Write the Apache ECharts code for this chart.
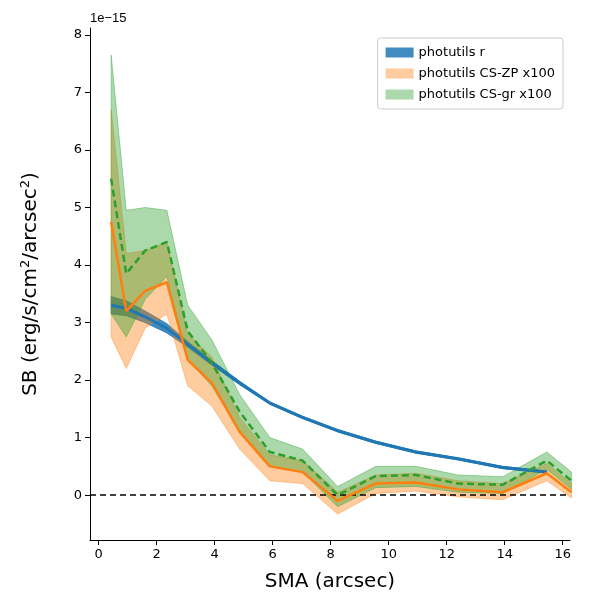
<!DOCTYPE html>
<html>
<head>
<meta charset="UTF-8">
<script src="https://cdn.jsdelivr.net/npm/echarts@6/dist/echarts.min.js"></script>
<style>body{margin:0}#c{width:600px;height:600px}</style>
</head>
<body>
<div id="c"></div>
<script>
var sma = [0.43, 0.95, 1.6, 2.35, 3.07, 3.9, 4.86, 5.9, 7.03, 8.24, 9.55, 10.93, 12.4, 13.93, 15.45, 16.3];
var rMean = [3.3, 3.25, 3.1, 2.9, 2.62, 2.3, 1.95, 1.6, 1.35, 1.12, 0.92, 0.75, 0.63, 0.48, 0.4, null];
var rLow  = [3.15, 3.12, 3.0, 2.82, 2.57, 2.26, 1.92, 1.58, 1.33, 1.1, 0.9, 0.73, 0.61, 0.46, 0.38, null];
var rHigh = [3.45, 3.38, 3.2, 2.98, 2.67, 2.34, 1.98, 1.62, 1.37, 1.14, 0.94, 0.77, 0.65, 0.5, 0.42, null];
var zpMean = [4.75, 3.2, 3.55, 3.7, 2.35, 1.95, 1.1, 0.5, 0.4, -0.1, 0.2, 0.22, 0.1, 0.05, 0.38, 0.05];
var zpLow  = [2.75, 2.2, 2.9, 3.15, 1.9, 1.55, 0.8, 0.25, 0.2, -0.33, 0.03, 0.07, -0.03, -0.08, 0.25, -0.05];
var zpHigh = [6.7, 4.2, 4.25, 4.4, 2.8, 2.4, 1.35, 0.7, 0.6, 0.05, 0.35, 0.38, 0.25, 0.2, 0.55, 0.2];
var grMean = [5.5, 3.85, 4.25, 4.4, 2.85, 2.3, 1.45, 0.75, 0.6, 0.0, 0.33, 0.35, 0.2, 0.18, 0.6, 0.25];
var grLow  = [3.15, 2.75, 3.4, 3.8, 2.35, 1.9, 1.1, 0.5, 0.4, -0.2, 0.13, 0.15, 0.05, 0.03, 0.45, 0.1];
var grHigh = [7.65, 4.95, 5.0, 4.95, 3.3, 2.7, 1.75, 1.0, 0.8, 0.15, 0.5, 0.5, 0.35, 0.32, 0.75, 0.4];
var xTicks = [0, 2, 4, 6, 8, 10, 12, 14, 16];
var yTicks = [0, 1, 2, 3, 4, 5, 6, 7, 8];

function pts(a) { return sma.map(function (x, i) { return [x, a[i]]; }); }
function band(name, low, high, color, op, z) {
  var data = [];
  sma.forEach(function (x, i) { if (low[i] != null) data.push([x, low[i], high[i]]); });
  return {
    name: name, type: 'custom', z: z, itemStyle: { color: color, opacity: op },
    encode: { x: 0, y: [1, 2] }, data: data,
    renderItem: function (params, api) {
      if (params.dataIndex !== 0) return null;
      var top = [], bot = [];
      data.forEach(function (d) {
        top.push(api.coord([d[0], d[2]]));
        bot.unshift(api.coord([d[0], d[1]]));
      });
      return {
        type: 'polygon', shape: { points: top.concat(bot) },
        style: { fill: color, opacity: op, stroke: color, lineWidth: 1 }
      };
    }
  };
}
var blue = '#1f77b4', orange = '#ff7f0e', green = '#2ca02c';
var series = [
  band('photutils r', rLow, rHigh, blue, 0.85, 1),
  band('photutils CS-ZP x100', zpLow, zpHigh, '#ff7f0e', 0.4, 2),
  band('photutils CS-gr x100', grLow, grHigh, green, 0.4, 3),
  { type: 'line', data: pts(rMean), symbol: 'none', lineStyle: { color: blue, width: 3 }, z: 5,
    markLine: { silent: true, symbol: 'none', label: { show: false },
      lineStyle: { color: '#000', type: [6, 4], width: 1.5 }, data: [{ yAxis: 0 }] } },
  { type: 'line', data: pts(zpMean), symbol: 'none', lineStyle: { color: orange, width: 2.5 }, z: 6 },
  { type: 'line', data: pts(grMean), symbol: 'none', lineStyle: { color: green, width: 2.5, type: [7, 4] }, z: 7 }
];
var chart = echarts.init(document.getElementById('c'));
chart.setOption({
  animation: false,
  textStyle: { fontFamily: 'DejaVu Sans' },
  grid: { left: 90, right: 30, top: 28, bottom: 60, containLabel: false },
  legend: {
    orient: 'vertical', right: 37, top: 38, itemWidth: 28, itemHeight: 10, itemGap: 8,
    icon: 'rect', backgroundColor: '#fff', borderColor: '#ccc', borderWidth: 1, borderRadius: 3,
    padding: [8, 8], textStyle: { fontSize: 13, color: '#000' },
    data: ['photutils r', 'photutils CS-ZP x100', 'photutils CS-gr x100']
  },
  graphic: [{ type: 'text', left: 90, top: 12, style: { text: '1e\u221215', fontSize: 13, fill: '#000' } }],
  xAxis: {
    type: 'value', min: -0.3, max: 16.25, name: 'SMA (arcsec)', nameLocation: 'middle', nameGap: 32,
    nameTextStyle: { fontSize: 20, color: '#000' },
    axisLine: { onZero: false, lineStyle: { color: '#000' } },
    axisTick: { show: true, customValues: xTicks, lineStyle: { color: '#000' } },
    axisLabel: { customValues: xTicks, color: '#000', fontSize: 13 },
    splitLine: { show: false }
  },
  yAxis: {
    type: 'value', min: -0.78, max: 8.12, nameLocation: 'middle', nameGap: 48, nameRotate: 90,
    name: 'SB (erg/s/cm{s|2}/arcsec{s|2})',
    nameTextStyle: { fontSize: 20, color: '#000', rich: { s: { fontSize: 13, verticalAlign: 'top', padding: [0, 0, 10, 0] } } },
    axisLine: { show: true, onZero: false, lineStyle: { color: '#000' } },
    axisTick: { show: true, customValues: yTicks, lineStyle: { color: '#000' } },
    axisLabel: { customValues: yTicks, color: '#000', fontSize: 13 },
    splitLine: { show: false }
  },
  series: series
});
</script>
</body>
</html>
